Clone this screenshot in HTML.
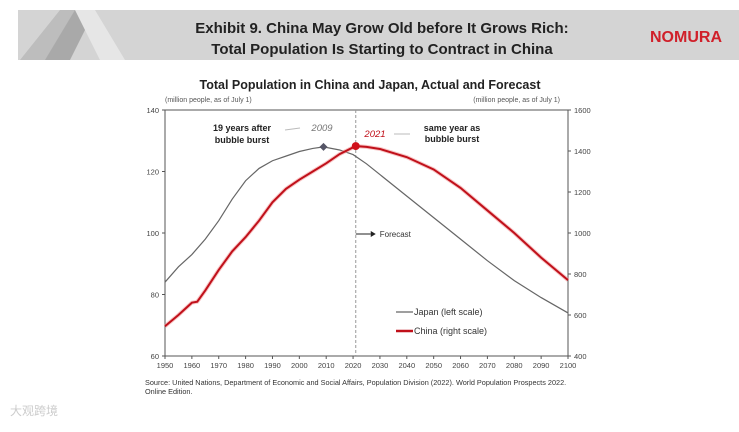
<!DOCTYPE html>
<html><head><meta charset="utf-8"><style>
body{margin:0;width:739px;height:427px;background:#fff;overflow:hidden;font-family:"Liberation Sans",sans-serif}
</style></head><body>
<svg width="739" height="427" viewBox="0 0 739 427" xmlns="http://www.w3.org/2000/svg" font-family="Liberation Sans, sans-serif">
<g>
<rect x="18" y="10" width="721" height="50" fill="#d4d4d4"/>
<polygon points="20,60 60,10 90,10 50,60" fill="#bdbdbd"/>
<polygon points="45,60 75,10 95,10 70,60" fill="#a9a9a9"/>
<polygon points="75,10 95,10 125,60 100,60" fill="#e6e6e6"/>
</g>
<text x="382" y="33" text-anchor="middle" font-size="15" font-weight="bold" fill="#222">Exhibit 9. China May Grow Old before It Grows Rich:</text>
<text x="382" y="54" text-anchor="middle" font-size="15" font-weight="bold" fill="#222">Total Population Is Starting to Contract in China</text>
<text x="686" y="42" text-anchor="middle" font-size="16" font-weight="bold" fill="#d0202a">NOMURA</text>
<text x="370" y="89" text-anchor="middle" font-size="12.5" font-weight="bold" fill="#222">Total Population in China and Japan, Actual and Forecast</text>
<text x="165" y="102" font-size="7" fill="#555">(million people, as of July 1)</text>
<text x="560" y="102" text-anchor="end" font-size="7" fill="#555">(million people, as of July 1)</text>
<g id="chart"></g>
<text x="145" y="385" font-size="7.3" fill="#333">Source: United Nations, Department of Economic and Social Affairs, Population Division (2022). World Population Prospects 2022.</text>
<text x="145" y="394" font-size="7.3" fill="#333">Online Edition.</text>
<text x="10" y="415" font-size="12" fill="#ccc" font-family="Liberation Sans, Noto Sans CJK SC, sans-serif">大观跨境</text>
</svg>
<script>
const years=[1950,1955,1960,1965,1970,1975,1980,1985,1990,1995,2000,2005,2009,2015,2020,2025,2030,2040,2050,2060,2070,2080,2090,2100];
const japan=[84,89,93,98,104,111,117,121,123.5,125,126.5,127.5,128,127,125.5,122.5,119,112,105,98,91,84.5,79,74];
const chinaYears=[1950,1955,1960,1962,1965,1970,1975,1980,1985,1990,1995,2000,2005,2010,2015,2021,2025,2030,2040,2050,2060,2070,2080,2090,2100];
const china=[545,600,660,665,720,820,910,980,1060,1150,1215,1260,1300,1340,1385,1424,1420,1410,1370,1310,1220,1110,1000,880,770];
const xTicks=[1950,1960,1970,1980,1990,2000,2010,2020,2030,2040,2050,2060,2070,2080,2090,2100];
const leftTicks=[60,80,100,120,140];
const rightTicks=[400,600,800,1000,1200,1400,1600];
const X0=165,X1=568,Y0=356,Y1=110;
const xs=v=>X0+(v-1950)/150*(X1-X0);
const yl=v=>Y0-(v-60)/80*(Y0-Y1);
const yr=v=>Y0-(v-400)/1200*(Y0-Y1);
const g=document.getElementById('chart');const NS='http://www.w3.org/2000/svg';
function mk(t,a,p){const e=document.createElementNS(NS,t);for(const k in a)e.setAttribute(k,a[k]);(p||g).appendChild(e);return e;}
let e;
e=mk('rect',{x:X0,y:Y1,width:X1-X0,height:Y0-Y1,fill:'none',stroke:'#555','stroke-width':1});


xTicks.forEach(v=>{mk('line',{x1:xs(v),x2:xs(v),y1:Y0,y2:Y0+3,stroke:'#555'});
e=mk('text',{x:xs(v),y:Y0+12,'text-anchor':'middle','font-size':7.5,fill:'#444'});e.textContent=v;

});
leftTicks.forEach(v=>{mk('line',{x1:X0-3,x2:X0,y1:yl(v),y2:yl(v),stroke:'#555'});
e=mk('text',{x:X0-6,y:yl(v)+3,'text-anchor':'end','font-size':7.5,fill:'#444'});e.textContent=v;

});
rightTicks.forEach(v=>{mk('line',{x1:X1,x2:X1+3,y1:yr(v),y2:yr(v),stroke:'#555'});
e=mk('text',{x:X1+6,y:yr(v)+3,'font-size':7.5,fill:'#444'});e.textContent=v;

});
e=mk('line',{x1:xs(2021),x2:xs(2021),y1:Y1,y2:Y0,stroke:'#999','stroke-dasharray':'3,2'});


mk('line',{x1:xs(2021),x2:xs(2021)+15,y1:234,y2:234,stroke:'#222'});
mk('polygon',{points:`${xs(2021)+15},231 ${xs(2021)+20},234 ${xs(2021)+15},237`,fill:'#222'});
e=mk('text',{x:xs(2021)+24,y:237,'font-size':8,fill:'#333'});e.textContent='Forecast';


e=mk('path',{d:years.map((y,i)=>(i?'L':'M')+xs(y)+','+yl(japan[i])).join(''),fill:'none',stroke:'#666','stroke-width':1.2});


const cd=chinaYears.map((y,i)=>(i?'L':'M')+xs(y)+','+yr(china[i])).join('');
mk('path',{d:cd,fill:'none',stroke:'#f4a0a0','stroke-width':4,opacity:0.6});
e=mk('path',{d:cd,fill:'none',stroke:'#c0101a','stroke-width':2});


const jx=xs(2009),jy=yl(128);
e=mk('polygon',{points:`${jx},${jy-4} ${jx+4},${jy} ${jx},${jy+4} ${jx-4},${jy}`,fill:'#556'});


e=mk('circle',{cx:xs(2021),cy:yr(1424),r:4,fill:'#d0101a'});


function txt(x,y,s,a){const t=mk('text',Object.assign({x:x,y:y},a));t.textContent=s;return t;}
e=txt(242,131,'19 years after',{'text-anchor':'middle','font-size':9,'font-weight':'bold',fill:'#222'});


txt(242,143,'bubble burst',{'text-anchor':'middle','font-size':9,'font-weight':'bold',fill:'#222'});
mk('line',{x1:285,x2:300,y1:130,y2:128,stroke:'#bbb'});
e=txt(322,131,'2009',{'text-anchor':'middle','font-size':9.5,'font-style':'italic',fill:'#777'});


e=txt(375,137,'2021',{'text-anchor':'middle','font-size':9.5,'font-style':'italic',fill:'#c0101a'});


mk('line',{x1:394,x2:410,y1:134,y2:134,stroke:'#bbb'});
e=txt(452,131,'same year as',{'text-anchor':'middle','font-size':9,'font-weight':'bold',fill:'#222'});


txt(452,142,'bubble burst',{'text-anchor':'middle','font-size':9,'font-weight':'bold',fill:'#222'});
e=mk('line',{x1:396,x2:413,y1:312,y2:312,stroke:'#666','stroke-width':1.2});


txt(414,315,'Japan (left scale)',{'font-size':9,fill:'#333'});
e=mk('line',{x1:396,x2:413,y1:331,y2:331,stroke:'#c0101a','stroke-width':2.5});


txt(414,334,'China (right scale)',{'font-size':9,fill:'#333'});
</script>
</body></html>
